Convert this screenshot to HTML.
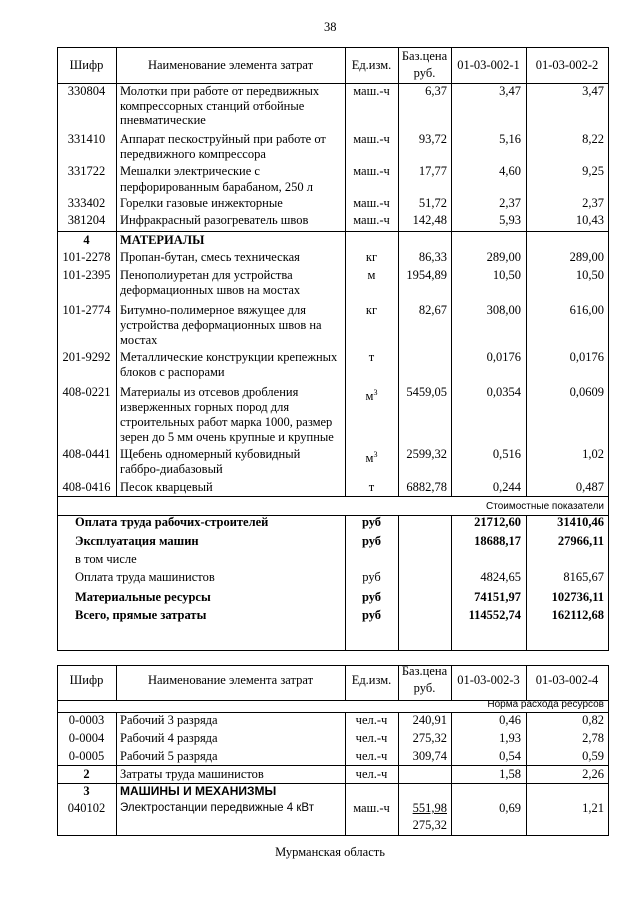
<!DOCTYPE html><html><head><meta charset="utf-8"><style>
body{margin:0;width:640px;height:905px;background:#fff;position:relative;overflow:hidden}
.t{position:absolute;font:12.5px/15px "Liberation Serif","DejaVu Serif",serif;white-space:nowrap;color:#000}
.s{font-family:"Liberation Sans",sans-serif;font-size:10px}
.a{left:57px;width:59px;text-align:center}.b{left:120px}.c{left:345px;width:53px;text-align:center}
.d{right:193px}.e{right:119px}.f{right:36px}.bo{font-weight:bold}
.h{position:absolute;height:1px;background:#000}.v{position:absolute;width:1px;background:#000}
</style></head><body>
<div class="t" style="left:324px;top:20px">38</div>
<!-- table 1 lines -->
<div class="h" style="left:57px;width:552px;top:47px"></div>
<div class="h" style="left:57px;width:552px;top:83px"></div>
<div class="h" style="left:57px;width:552px;top:231px"></div>
<div class="h" style="left:57px;width:552px;top:496px"></div>
<div class="h" style="left:57px;width:552px;top:515px"></div>
<div class="h" style="left:57px;width:552px;top:650px"></div>
<div class="v" style="left:57px;top:47px;height:604px"></div>
<div class="v" style="left:608px;top:47px;height:604px"></div>
<div class="v" style="left:116px;top:47px;height:449px"></div>
<div class="v" style="left:345px;top:47px;height:449px"></div>
<div class="v" style="left:398px;top:47px;height:449px"></div>
<div class="v" style="left:451px;top:47px;height:449px"></div>
<div class="v" style="left:526px;top:47px;height:449px"></div>
<div class="v" style="left:345px;top:515px;height:135px"></div>
<div class="v" style="left:398px;top:515px;height:135px"></div>
<div class="v" style="left:451px;top:515px;height:135px"></div>
<div class="v" style="left:526px;top:515px;height:135px"></div>
<!-- header -->
<div class="t a" style="top:58px">Шифр</div>
<div class="t" style="left:116px;width:229px;text-align:center;top:58px">Наименование элемента затрат</div>
<div class="t c" style="top:58px">Ед.изм.</div>
<div class="t" style="left:398px;width:53px;text-align:center;top:49px">Баз.цена</div>
<div class="t" style="left:398px;width:53px;text-align:center;top:66px">руб.</div>
<div class="t" style="left:451px;width:75px;text-align:center;top:58px">01-03-002-1</div>
<div class="t" style="left:526px;width:82px;text-align:center;top:58px">01-03-002-2</div>
<!-- rows -->
<div class="t a" style="top:84px">330804</div><div class="t b" style="top:84px">Молотки при работе от передвижных</div><div class="t b" style="top:99px">компрессорных станций отбойные</div><div class="t b" style="top:113px">пневматические</div><div class="t c" style="top:84px">маш.-ч</div><div class="t d" style="top:84px">6,37</div><div class="t e" style="top:84px">3,47</div><div class="t f" style="top:84px">3,47</div>
<div class="t a" style="top:132px">331410</div><div class="t b" style="top:132px">Аппарат пескоструйный при работе от</div><div class="t b" style="top:147px">передвижного компрессора</div><div class="t c" style="top:132px">маш.-ч</div><div class="t d" style="top:132px">93,72</div><div class="t e" style="top:132px">5,16</div><div class="t f" style="top:132px">8,22</div>
<div class="t a" style="top:164px">331722</div><div class="t b" style="top:164px">Мешалки электрические с</div><div class="t b" style="top:180px">перфорированным барабаном, 250 л</div><div class="t c" style="top:164px">маш.-ч</div><div class="t d" style="top:164px">17,77</div><div class="t e" style="top:164px">4,60</div><div class="t f" style="top:164px">9,25</div>
<div class="t a" style="top:196px">333402</div><div class="t b" style="top:196px">Горелки газовые инжекторные</div><div class="t c" style="top:196px">маш.-ч</div><div class="t d" style="top:196px">51,72</div><div class="t e" style="top:196px">2,37</div><div class="t f" style="top:196px">2,37</div>
<div class="t a" style="top:213px">381204</div><div class="t b" style="top:213px">Инфракрасный разогреватель швов</div><div class="t c" style="top:213px">маш.-ч</div><div class="t d" style="top:213px">142,48</div><div class="t e" style="top:213px">5,93</div><div class="t f" style="top:213px">10,43</div>
<div class="t a bo" style="top:233px">4</div><div class="t b bo" style="top:233px">МАТЕРИАЛЫ</div>
<div class="t a" style="top:250px">101-2278</div><div class="t b" style="top:250px">Пропан-бутан, смесь техническая</div><div class="t c" style="top:250px">кг</div><div class="t d" style="top:250px">86,33</div><div class="t e" style="top:250px">289,00</div><div class="t f" style="top:250px">289,00</div>
<div class="t a" style="top:268px">101-2395</div><div class="t b" style="top:268px">Пенополиуретан для устройства</div><div class="t b" style="top:283px">деформационных швов на мостах</div><div class="t c" style="top:268px">м</div><div class="t d" style="top:268px">1954,89</div><div class="t e" style="top:268px">10,50</div><div class="t f" style="top:268px">10,50</div>
<div class="t a" style="top:303px">101-2774</div><div class="t b" style="top:303px">Битумно-полимерное вяжущее для</div><div class="t b" style="top:318px">устройства деформационных швов на</div><div class="t b" style="top:333px">мостах</div><div class="t c" style="top:303px">кг</div><div class="t d" style="top:303px">82,67</div><div class="t e" style="top:303px">308,00</div><div class="t f" style="top:303px">616,00</div>
<div class="t a" style="top:350px">201-9292</div><div class="t b" style="top:350px">Металлические конструкции крепежных</div><div class="t b" style="top:365px">блоков с распорами</div><div class="t c" style="top:350px">т</div><div class="t e" style="top:350px">0,0176</div><div class="t f" style="top:350px">0,0176</div>
<div class="t a" style="top:385px">408-0221</div><div class="t b" style="top:385px">Материалы из отсевов дробления</div><div class="t b" style="top:400px">изверженных горных пород для</div><div class="t b" style="top:415px">строительных работ марка 1000, размер</div><div class="t b" style="top:430px">зерен до 5 мм очень крупные и крупные</div><div class="t c" style="top:385px">м<sup style="font-size:8px">3</sup></div><div class="t d" style="top:385px">5459,05</div><div class="t e" style="top:385px">0,0354</div><div class="t f" style="top:385px">0,0609</div>
<div class="t a" style="top:447px">408-0441</div><div class="t b" style="top:447px">Щебень одномерный кубовидный</div><div class="t b" style="top:462px">габбро-диабазовый</div><div class="t c" style="top:447px">м<sup style="font-size:8px">3</sup></div><div class="t d" style="top:447px">2599,32</div><div class="t e" style="top:447px">0,516</div><div class="t f" style="top:447px">1,02</div>
<div class="t a" style="top:480px">408-0416</div><div class="t b" style="top:480px">Песок кварцевый</div><div class="t c" style="top:480px">т</div><div class="t d" style="top:480px">6882,78</div><div class="t e" style="top:480px">0,244</div><div class="t f" style="top:480px">0,487</div>
<div class="t s" style="right:36px;top:499px">Стоимостные показатели</div>
<div class="t bo" style="left:75px;top:515px">Оплата труда рабочих-строителей</div><div class="t c bo" style="top:515px">руб</div><div class="t e bo" style="top:515px">21712,60</div><div class="t f bo" style="top:515px">31410,46</div>
<div class="t bo" style="left:75px;top:534px">Эксплуатация машин</div><div class="t c bo" style="top:534px">руб</div><div class="t e bo" style="top:534px">18688,17</div><div class="t f bo" style="top:534px">27966,11</div>
<div class="t" style="left:75px;top:552px">в том числе</div>
<div class="t" style="left:75px;top:570px">Оплата труда машинистов</div><div class="t c" style="top:570px">руб</div><div class="t e" style="top:570px">4824,65</div><div class="t f" style="top:570px">8165,67</div>
<div class="t bo" style="left:75px;top:590px">Материальные ресурсы</div><div class="t c bo" style="top:590px">руб</div><div class="t e bo" style="top:590px">74151,97</div><div class="t f bo" style="top:590px">102736,11</div>
<div class="t bo" style="left:75px;top:608px">Всего, прямые затраты</div><div class="t c bo" style="top:608px">руб</div><div class="t e bo" style="top:608px">114552,74</div><div class="t f bo" style="top:608px">162112,68</div>
<!-- table 2 lines -->
<div class="h" style="left:57px;width:552px;top:665px"></div>
<div class="h" style="left:57px;width:552px;top:700px"></div>
<div class="h" style="left:57px;width:552px;top:712px"></div>
<div class="h" style="left:57px;width:552px;top:765px"></div>
<div class="h" style="left:57px;width:552px;top:783px"></div>
<div class="h" style="left:57px;width:552px;top:835px"></div>
<div class="v" style="left:57px;top:665px;height:171px"></div>
<div class="v" style="left:608px;top:665px;height:171px"></div>
<div class="v" style="left:116px;top:665px;height:35px"></div><div class="v" style="left:116px;top:712px;height:123px"></div>
<div class="v" style="left:345px;top:665px;height:35px"></div><div class="v" style="left:345px;top:712px;height:123px"></div>
<div class="v" style="left:398px;top:665px;height:35px"></div><div class="v" style="left:398px;top:712px;height:123px"></div>
<div class="v" style="left:451px;top:665px;height:35px"></div><div class="v" style="left:451px;top:712px;height:123px"></div>
<div class="v" style="left:526px;top:665px;height:35px"></div><div class="v" style="left:526px;top:712px;height:123px"></div>
<div class="t a" style="top:673px">Шифр</div>
<div class="t" style="left:116px;width:229px;text-align:center;top:673px">Наименование элемента затрат</div>
<div class="t c" style="top:673px">Ед.изм.</div>
<div class="t" style="left:398px;width:53px;text-align:center;top:664px">Баз.цена</div>
<div class="t" style="left:398px;width:53px;text-align:center;top:681px">руб.</div>
<div class="t" style="left:451px;width:75px;text-align:center;top:673px">01-03-002-3</div>
<div class="t" style="left:526px;width:82px;text-align:center;top:673px">01-03-002-4</div>
<div class="t s" style="right:36px;top:697px">Норма расхода ресурсов</div>
<div class="t a" style="top:713px">0-0003</div><div class="t b" style="top:713px">Рабочий 3 разряда</div><div class="t c" style="top:713px">чел.-ч</div><div class="t d" style="top:713px">240,91</div><div class="t e" style="top:713px">0,46</div><div class="t f" style="top:713px">0,82</div>
<div class="t a" style="top:731px">0-0004</div><div class="t b" style="top:731px">Рабочий 4 разряда</div><div class="t c" style="top:731px">чел.-ч</div><div class="t d" style="top:731px">275,32</div><div class="t e" style="top:731px">1,93</div><div class="t f" style="top:731px">2,78</div>
<div class="t a" style="top:749px">0-0005</div><div class="t b" style="top:749px">Рабочий 5 разряда</div><div class="t c" style="top:749px">чел.-ч</div><div class="t d" style="top:749px">309,74</div><div class="t e" style="top:749px">0,54</div><div class="t f" style="top:749px">0,59</div>
<div class="t a bo" style="top:767px">2</div><div class="t b" style="top:767px">Затраты труда машинистов</div><div class="t c" style="top:767px">чел.-ч</div><div class="t e" style="top:767px">1,58</div><div class="t f" style="top:767px">2,26</div>
<div class="t a bo" style="top:784px">3</div><div class="t b bo" style="top:784px;font-family:'Liberation Sans',sans-serif;font-size:12px">МАШИНЫ И МЕХАНИЗМЫ</div>
<div class="t a" style="top:801px">040102</div><div class="t b" style="top:801px;font-family:'Liberation Sans',sans-serif;font-size:11.5px">Электростанции передвижные 4 кВт</div><div class="t c" style="top:801px">маш.-ч</div><div class="t d" style="top:801px;text-decoration:underline">551,98</div><div class="t d" style="top:818px">275,32</div><div class="t e" style="top:801px">0,69</div><div class="t f" style="top:801px">1,21</div>
<div class="t" style="left:0;width:660px;text-align:center;top:845px">Мурманская область</div>
</body></html>
